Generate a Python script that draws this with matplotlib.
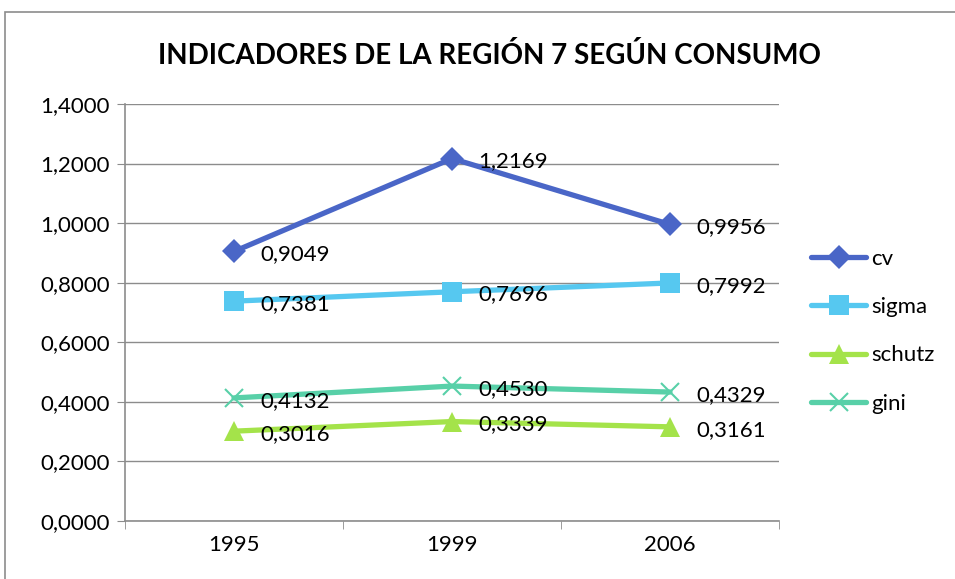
import matplotlib.pyplot as plt
from matplotlib.patches import Rectangle

plt.rcParams['font.family'] = ['Lato', 'DejaVu Sans']

# datos
years = ['1995', '1999', '2006']
cv = [0.9049, 1.2169, 0.9956]
sigma = [0.7381, 0.7696, 0.7992]
schutz = [0.3016, 0.3339, 0.3161]
gini = [0.4132, 0.4530, 0.4329]
y_ticks = [0.0, 0.2, 0.4, 0.6, 0.8, 1.0, 1.2, 1.4]

series = [
    ('cv', cv, '#4A66C7', 'D', 12),
    ('sigma', sigma, '#56C8F0', 's', 14),
    ('schutz', schutz, '#A4E34A', '^', 15),
    ('gini', gini, '#58D0A8', 'x', 13),
]

fig = plt.figure(figsize=(9.55, 5.79), dpi=100)
ax = fig.add_axes([125 / 955, 1 - 521 / 579, (779 - 125) / 955, (521 - 104) / 579])

# marco exterior
fig.patches.append(Rectangle((5 / 955, -0.1), 1.2, 1 - 12 / 579 + 0.1,
                             transform=fig.transFigure, fill=False,
                             edgecolor='#8C8C8C', linewidth=1.2))

x = list(range(len(years)))
for name, vals, color, marker, ms in series:
    ax.plot(x, vals, color=color, linewidth=3.8, marker=marker, markersize=ms,
            markeredgewidth=1.5 if marker == 'x' else 0, markeredgecolor=color,
            label=name, solid_capstyle='round')
    for xi, v in zip(x, vals):
        ax.annotate(f'{v:.4f}'.replace('.', ','), (xi, v), xytext=(19, -2),
                    textcoords='offset points', va='center', ha='left', fontsize=16)

ax.set_xlim(-0.5, 2.5)
ax.set_ylim(0, 1.4)
ax.set_yticks(y_ticks)
ax.set_yticklabels([f'{t:.4f}'.replace('.', ',') for t in y_ticks], fontsize=16)
ax.set_xticks(x)
ax.set_xticklabels(years, fontsize=16)
ax.set_xticks([-0.5, 0.5, 1.5, 2.5], minor=True)
ax.tick_params(axis='x', which='major', length=0, pad=10)
ax.tick_params(axis='x', which='minor', length=6, color='#8C8C8C', direction='out')
ax.tick_params(axis='y', length=6, color='#8C8C8C', pad=5)

ax.grid(axis='y', color='#8C8C8C', linewidth=1)
ax.set_axisbelow(True)
for s in ['top', 'right']:
    ax.spines[s].set_visible(False)
for s in ['left', 'bottom']:
    ax.spines[s].set_color('#8C8C8C')
    ax.spines[s].set_linewidth(1.2)

fig.text(0.513, 1 - 55 / 579, 'INDICADORES DE LA REGIÓN 7 SEGÚN CONSUMO',
         ha='center', va='center', fontsize=20, fontweight='bold')

leg = fig.legend(loc='upper left', bbox_to_anchor=(802 / 955, 1 - 240 / 579),
                 frameon=False, fontsize=16, handlelength=2.5, handletextpad=0.2,
                 labelspacing=1.27, borderaxespad=0)

fig.savefig('out.png', dpi=100)
plt.close()
